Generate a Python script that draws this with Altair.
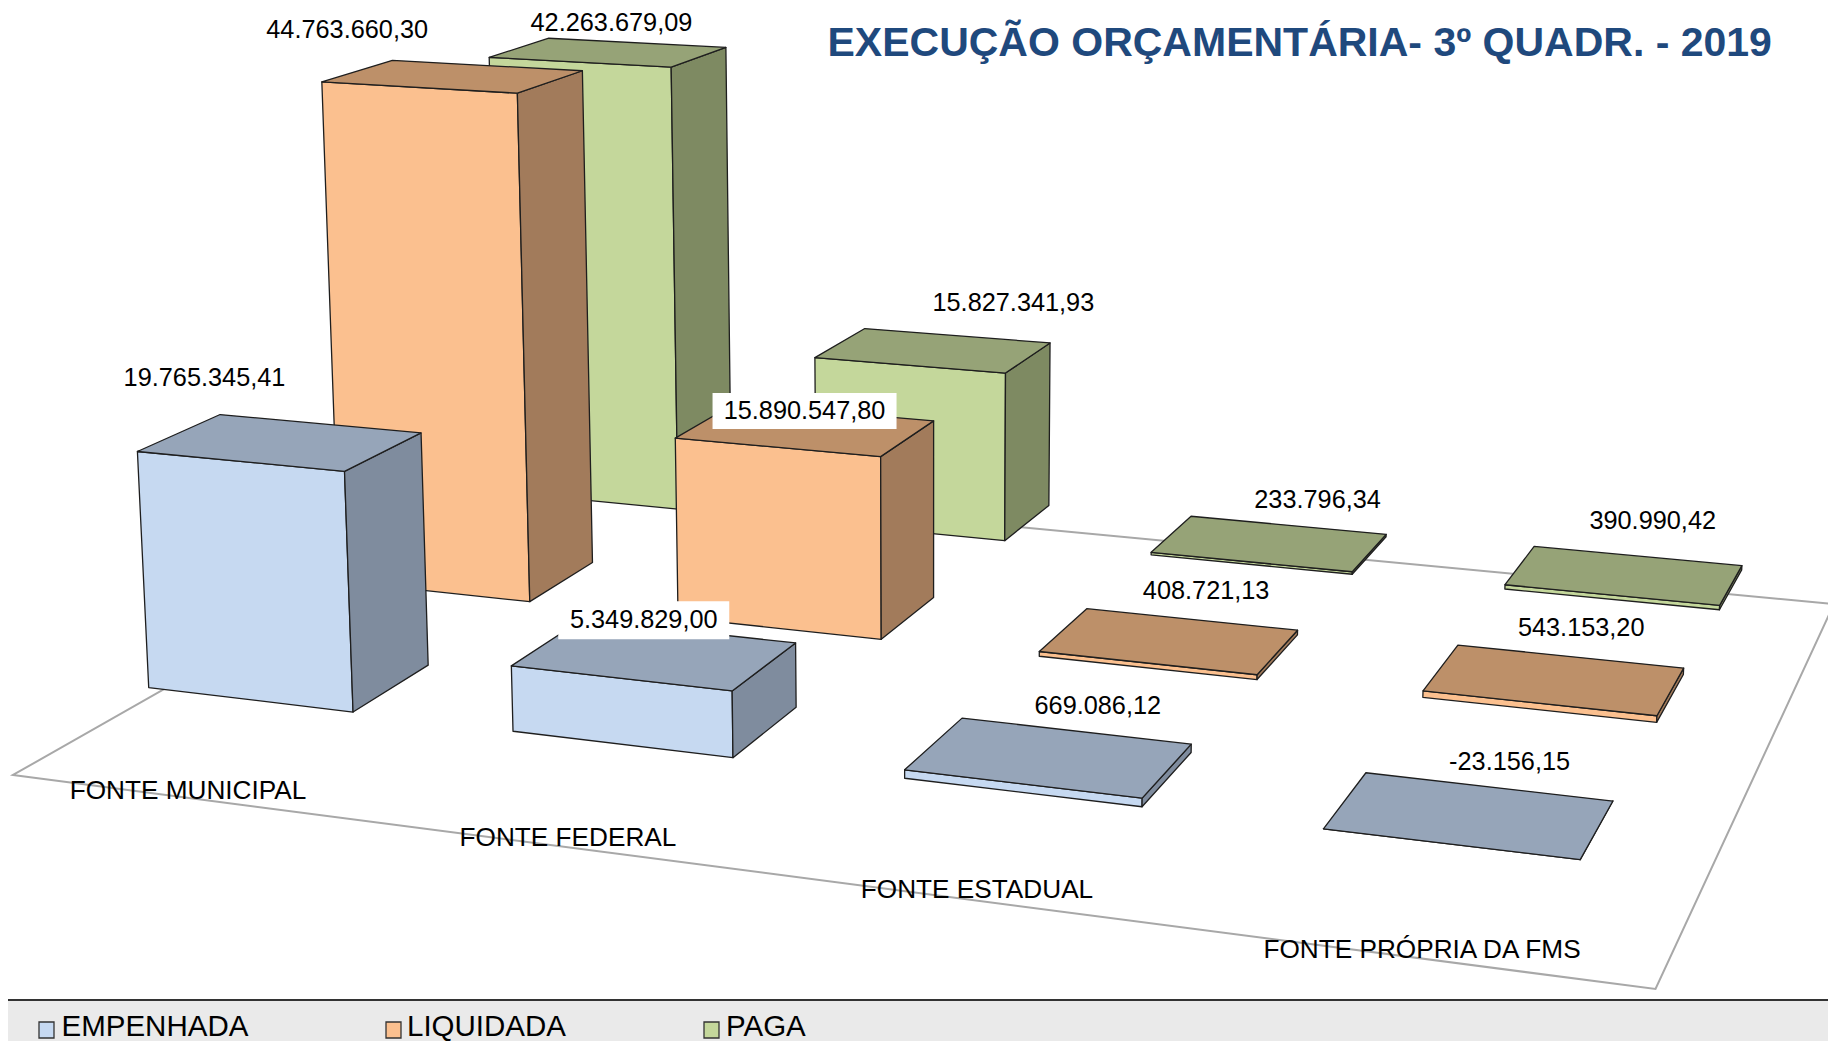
import altair as alt
import pandas as pd

# ---- data ----
categories = ["FONTE MUNICIPAL", "FONTE FEDERAL", "FONTE ESTADUAL", "FONTE PRÓPRIA DA FMS"]
series = ["EMPENHADA", "LIQUIDADA", "PAGA"]
empenhada = [19765345.41, 5349829.00, 669086.12, -23156.15]
liquidada = [44763660.30, 15890547.80, 408721.13, 543153.20]
paga = [42263679.09, 15827341.93, 233796.34, 390990.42]
title_text = "EXECUÇÃO ORÇAMENTÁRIA- 3º QUADR. - 2019"

# ---- styling ----
front_colors = ["#C6D9F1", "#FBC08F", "#C4D79B"]
top_colors = ["#96A5B9", "#BD9069", "#96A377"]
side_colors = ["#7F8C9E", "#A27B5B", "#7E8A62"]
edge_color = "#1E1E1E"
floor_color = "#A8A8A8"
title_color = "#1F497D"
FONT = "Liberation Sans"

# ---- camera model (page pixels): floor plane homography + vertical vanishing point ----
W, H = 1820, 1033
OFF = 8
CAM_CORNERS = [(13, 775), (1650, 989), (1829, 604), (537, 481)]   # FL, FR, BR, BL of the bar plane
FLOOR_CORNERS = [(13, 775), (1655.5, 989), (1834, 604), (530, 481)]
VX, VY = 930.0, 17000.0
K_PER_UNIT = -0.000773 / 1e6

COL_STARTS, COL_W = [-0.0125, 0.2525, 0.517, 0.779], 0.151
ROW_START, ROW_STEP, ROW_D = 0.2415, 0.3525, 0.142


def homography(c):
    (x0, y0), (x1, y1), (x2, y2), (x3, y3) = c
    dx1, dx2, sx = x1 - x2, x3 - x2, x0 - x1 + x2 - x3
    dy1, dy2, sy = y1 - y2, y3 - y2, y0 - y1 + y2 - y3
    den = dx1 * dy2 - dx2 * dy1
    g = (sx * dy2 - dx2 * sy) / den
    h = (dx1 * sy - sx * dy1) / den
    return (x1 - x0 + g * x1, x3 - x0 + h * x3, x0, y1 - y0 + g * y1, y3 - y0 + h * y3, y0, g, h)


A, B, C, D, E, F, G, HH = homography(CAM_CORNERS)


def project(s, t, z=0.0):
    k = z * K_PER_UNIT
    w = G * s + HH * t + 1 + k
    x = (A * s + B * t + C + k * VX) / w
    y = (D * s + E * t + F + k * VY) / w
    return [round(x - OFF, 2), round(y - OFF, 2)]


def poly(points, fill):
    ring = points + [points[0]]
    return {
        "type": "Feature",
        "properties": {"fill": fill},
        "geometry": {"type": "Polygon", "coordinates": [ring]},
    }


values = [empenhada, liquidada, paga]
features = []
anchors = {}
for j in [2, 1, 0]:
    t0 = ROW_START + j * ROW_STEP
    t1 = t0 + ROW_D
    for i in range(4):
        s0 = COL_STARTS[i]
        s1 = s0 + COL_W
        v = values[j][i]
        features.append(poly([project(s0, t0), project(s1, t0), project(s1, t0, v), project(s0, t0, v)], front_colors[j]))
        features.append(poly([project(s1, t0), project(s1, t1), project(s1, t1, v), project(s1, t0, v)], side_colors[j]))
        features.append(poly([project(s0, t0, v), project(s1, t0, v), project(s1, t1, v), project(s0, t1, v)], top_colors[j]))
        anchors[(j, i)] = project((s0 + s1) / 2, (t0 + t1) / 2, v)

floor_feature = [poly([[x - OFF, y - OFF] for x, y in FLOOR_CORNERS], "none")]


def br(v):
    return f"{v:,.2f}".replace(",", "#").replace(".", ",").replace("#", ".")


# offsets of each value label from the centre of its bar's top face
label_dx = [[-76, -11, 48.5, 40], [-106, -1, 36.6, 26.7], [3, 80, 48, 28.3]]
label_dy = [[-64, -34, -50.5, -53], [-46, -18.5, -49.5, -51.7], [-29, -47, -43.7, -53.7]]

rows = []
for j in range(3):
    for i in range(4):
        ax, ay = anchors[(j, i)]
        rows.append({"x": ax + label_dx[j][i], "y": ay + label_dy[j][i], "label": br(values[j][i]), "j": j, "i": i})
labels = pd.DataFrame(rows)

# white boxes behind the two labels that sit on top of bars
boxes = labels[((labels.j == 0) & (labels.i == 1)) | ((labels.j == 1) & (labels.i == 1))].copy()
boxes["hw"] = [85.5, 92]
boxes["hh"] = [19, 18]
boxes["x0"] = boxes.x - boxes.hw
boxes["x1"] = boxes.x + boxes.hw
boxes["y0"] = boxes.y - boxes.hh
boxes["y1"] = boxes.y + boxes.hh

cat_df = pd.DataFrame({"x": [180, 560, 969, 1414], "y": [783, 830, 882, 941.5], "label": categories})

legend_df = pd.DataFrame({
    "sx": [31, 378, 696],
    "tx": [53.5, 399, 718],
    "y": [1014, 1014, 1014],
    "ty": [1028, 1028, 1028],
    "label": series,
    "fill": front_colors,
})
band_df = pd.DataFrame({"x0": [0], "x1": [W], "y0": [992], "y1": [H]})
title_df = pd.DataFrame({"x": [819.5], "y": [48], "label": [title_text]})

xscale = alt.Scale(domain=[0, W], range=[0, W])
yscale = alt.Scale(domain=[0, H], range=[0, H])
X0 = alt.X("x0:Q", scale=xscale, axis=None)
Y0 = alt.Y("y0:Q", scale=yscale, axis=None)
proj = dict(type="identity", scale=1, translate=[0, 0])

floor = (
    alt.Chart(alt.Data(values=floor_feature))
    .mark_geoshape(filled=False, stroke=floor_color, strokeWidth=2)
    .project(**proj)
)
bars = (
    alt.Chart(alt.Data(values=features))
    .mark_geoshape(stroke=edge_color, strokeWidth=1.3, strokeJoin="round")
    .encode(fill=alt.Fill("properties.fill:N", scale=None, legend=None))
    .project(**proj)
)
white = alt.Chart(boxes).mark_rect(fill="white").encode(x=X0, x2="x1", y=Y0, y2="y1")


def text(df, size, align="center", baseline="middle", color="black", weight="normal", xf="x", yf="y"):
    return alt.Chart(df).mark_text(
        font=FONT, fontSize=size, align=align, baseline=baseline, color=color, fontWeight=weight
    ).encode(x=alt.X(f"{xf}:Q", scale=xscale, axis=None), y=alt.Y(f"{yf}:Q", scale=yscale, axis=None), text="label:N")


value_text = text(labels, 25.3)
cat_text = text(cat_df, 26.2)
title = text(title_df, 41, align="left", baseline="alphabetic", color=title_color, weight="bold")

band = alt.Chart(band_df).mark_rect(fill="#EAEAEA").encode(x=X0, x2="x1", y=Y0, y2="y1")
band_line = alt.Chart(band_df).mark_rule(stroke="#333333", strokeWidth=2).encode(x=X0, x2="x1", y=Y0)
legend_boxes = alt.Chart(legend_df).transform_calculate(ex="datum.sx + 15", ey="datum.y + 16").mark_rect(stroke="#333333", strokeWidth=1.3).encode(
    x=alt.X("sx:Q", scale=xscale, axis=None),
    x2="ex:Q",
    y=alt.Y("y:Q", scale=yscale, axis=None),
    y2="ey:Q",
    fill=alt.Fill("fill:N", scale=None, legend=None),
)
legend_text = text(legend_df, 29.5, align="left", baseline="alphabetic", xf="tx", yf="ty")

chart = (
    alt.layer(floor, bars, white, value_text, cat_text, title, band, band_line, legend_boxes, legend_text)
    .properties(width=W, height=H, padding=0, autosize=alt.AutoSizeParams(type="none"), background="white")
    .configure_view(strokeWidth=0)
)
chart.save("out.html", embed_options={"renderer": "svg", "actions": False})
